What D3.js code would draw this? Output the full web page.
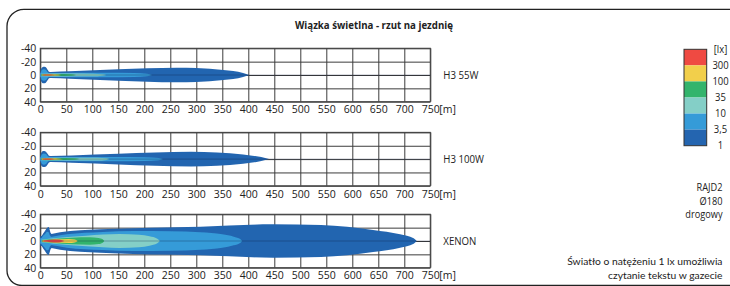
<!DOCTYPE html>
<html><head><meta charset="utf-8">
<script src="https://cdn.jsdelivr.net/npm/d3@7"></script>
<style>body{margin:0;background:#fff}svg{display:block}</style>
</head><body><svg id="c" width="730" height="286"></svg>
<script>
// ---------- data ----------
const distanceTicks = [0,50,100,150,200,250,300,350,400,450,500,550,600,650,700,750];
const offsetTicks = [-40,-20,0,20,40];
const lampNames = ["H3 55W","H3 100W","XENON"];
const legendLabels = ["[lx]","300","100","35","10","3,5","1"];
const luxColors = ["#2465b0","#359bd8","#84cfc7","#33b46c","#f2cf4b","#ef4a42"]; // 1, 3.5, 10, 35, 100, 300 lx

// isolux contours: [distance m, half width m]
const h55_lux1   = [[0,4],[20,4.5],[56,5.5],[150,8.5],[262,11],[300,10.5],[352,7.5],[390,3],[402,0]];
const h55_lux3_5 = [[0,2.6],[40,3],[120,3.3],[180,2.9],[205,1.8],[215,0]];
const h55_lux10  = [[1,1.8],[40,2.1],[100,2],[120,1.2],[127,0]];
const h55_lux35  = [[2,1.3],[30,1.6],[60,1.1],[69,0]];
const h55_lux100 = [[3,0.9],[20,1.2],[35,0.7],[40,0]];
const h55_lux300 = [[5,0.5],[15,0.8],[24,0.5],[28,0]];
const h55_bulb1  = [[0,3],[2,10],[6,12.5],[10,12],[14,8],[17,5],[20,4.5]];
const h55_bulb3_5= [[1,3],[3,7.5],[7,8.5],[11,7.5],[14,4.5],[16,3]];

const h100_lux1   = [[0,4],[20,4.5],[60,5.5],[150,8],[290,11],[340,10],[390,7],[425,3],[440,0]];
const h100_lux3_5 = [[0,2.6],[40,3],[140,3.3],[200,2.9],[228,1.6],[236,0]];
const h100_lux10  = [[1,1.8],[40,2.1],[110,2],[127,1.2],[133,0]];
const h100_lux35  = [[2,1.3],[30,1.6],[66,1.1],[75,0]];
const h100_lux100 = [[3,0.9],[22,1.2],[38,0.7],[44,0]];
const h100_lux300 = [[5,0.5],[15,0.8],[24,0.5],[28,0]];
const h100_bulb1  = [[0,3],[2,10],[6,12],[10,11.5],[14,8],[17,5],[20,4.5]];
const h100_bulb3_5= [[1,3],[3,7],[7,8.5],[11,7.5],[14,4.5],[16,3]];

const xen_lux1   = [[0,7],[19,10],[38,13],[115,17.5],[308,21.5],[448,25],[540,24],[640,16.5],[692,10],[718,4],[724,0]];
const xen_lux3_5 = [[0,4],[20,6],[51,10],[120,13.5],[179,15],[250,14.5],[308,13],[350,10],[372,6.5],[385,2.5],[388,0]];
const xen_lux10  = [[2,2],[31,4.5],[88,8],[152,10.5],[190,9.5],[210,7],[225,3.5],[230,0]];
const xen_lux35  = [[3,1.5],[25,3],[60,5],[95,5.5],[112,4.5],[120,2.5],[123,0]];
const xen_lux100 = [[4,1],[30,2.2],[55,3],[66,2.2],[72,0]];
const xen_lux300 = [[6,0.8],[20,1.8],[35,2.2],[42,1.2],[46,0]];
const xen_bulb1  = [[0,3],[3,8],[8,14],[13,19.5],[16,21],[18,17],[20,12],[23,10]];
const xen_bulb3_5= [[1,2.5],[4,6.5],[9,10.5],[13,14],[16,13],[18,9],[21,6]];

const lamps = [
  {name: lampNames[0], contours:[h55_lux1,h55_lux3_5,h55_lux10,h55_lux35,h55_lux100,h55_lux300], bulbs:[h55_bulb1,h55_bulb3_5]},
  {name: lampNames[1], contours:[h100_lux1,h100_lux3_5,h100_lux10,h100_lux35,h100_lux100,h100_lux300], bulbs:[h100_bulb1,h100_bulb3_5]},
  {name: lampNames[2], contours:[xen_lux1,xen_lux3_5,xen_lux10,xen_lux35,xen_lux100,xen_lux300], bulbs:[xen_bulb1,xen_bulb3_5]}
];

// ---------- drawing ----------
const svg = d3.select("#c");
const SANS = "'Open Sans','Noto Sans',sans-serif";
const X0 = 40.3, X1 = 430.3, PH = 53.4;
const panelTops = [48.3, 132.4, 214.3];
const x = d3.scaleLinear().domain([0,750]).range([X0,X1]);

const defs = svg.append("defs");
defs.append("filter").attr("id","soft").attr("x","-5%").attr("y","-30%").attr("width","110%").attr("height","160%")
  .append("feGaussianBlur").attr("stdDeviation",0.45);

function squeeze(sel, k){
  sel.each(function(){
    const L = this.getComputedTextLength();
    d3.select(this).attr("textLength", L*k).attr("lengthAdjust","spacingAndGlyphs");
  });
}

// outer frame
svg.append("path")
  .attr("d","M730,9.3 H24 A17,17 0 0 0 7,26.3 V270 A15,15 0 0 0 22,285.5 H730")
  .attr("fill","none").attr("stroke","#222").attr("stroke-width",1.3);

// title
svg.append("text").attr("x",374).attr("y",28.5).attr("text-anchor","middle")
  .attr("font-family",SANS).attr("font-weight","bold").attr("font-size",11).attr("fill","#222")
  .text("Wiązka świetlna - rzut na jezdnię").call(squeeze,0.88);

lamps.forEach((lamp,i)=>{
  const top = panelTops[i];
  const y = d3.scaleLinear().domain([-40,40]).range([top, top+PH]);
  const g = svg.append("g");

  // grid via axes
  const gx = g.append("g").attr("transform",`translate(0,${top+PH})`)
    .call(d3.axisBottom(x).tickValues(distanceTicks).tickSize(-PH).tickPadding(6).tickFormat(d=>String(d)));
  const gy = g.append("g").attr("transform",`translate(${X0},0)`)
    .call(d3.axisLeft(y).tickValues(offsetTicks).tickSize(-(X1-X0)).tickPadding(4).tickFormat(d=>String(d)));
  [gx,gy].forEach(a=>{
    a.select(".domain").remove();
    a.selectAll(".tick line").attr("stroke","#3c3c3c").attr("stroke-width",1);
    a.selectAll(".tick text").attr("font-family",SANS).attr("font-size",10.5).attr("fill","#222");
  });
  gx.selectAll(".tick text").attr("dy","0.55em");
  // [m] unit after last tick
  const lastTick = gx.selectAll(".tick text").filter(d=>d===750);
  const w750 = lastTick.node().getComputedTextLength();
  g.append("text").attr("x", x(750)+w750/2).attr("y", top+PH+6).attr("dy","0.55em")
    .attr("font-family",SANS).attr("font-size",10.5).attr("fill","#222").text("[m]");

  g.append("rect").attr("x",X0).attr("y",top).attr("width",X1-X0).attr("height",PH)
    .attr("fill","none").attr("stroke","#444").attr("stroke-width",1.1);

  // beams
  const area = d3.area().x(d=>x(d[0])).y0(d=>y(-d[1])).y1(d=>y(d[1])).curve(d3.curveMonotoneX);
  const bg = g.append("g").attr("filter","url(#soft)");
  bg.append("path").attr("d",area(lamp.contours[0])).attr("fill",luxColors[0]);
  bg.append("path").attr("d",area(lamp.bulbs[0])).attr("fill",luxColors[0]);
  bg.append("path").attr("d",area(lamp.bulbs[1])).attr("fill",luxColors[1]);
  lamp.contours.slice(1).forEach((c,k)=>{
    bg.append("path").attr("d",area(c)).attr("fill",luxColors[k+1]);
  });
  // centre line
  g.append("line").attr("x1",x(0)).attr("x2",x(750)).attr("y1",y(0)).attr("y2",y(0))
    .attr("stroke","rgba(15,30,60,0.35)").attr("stroke-width",0.9);

  // lamp label
  g.append("text").attr("x",443.3).attr("y",y(0)+3.8)
    .attr("font-family",SANS).attr("font-size",11).attr("fill","#222").text(lamp.name).call(squeeze,0.88);
});

// legend
const LX = 684, LW = 22.7;
const ly = d3.scaleLinear().domain([0,6]).range([49.3,145.7]);
const legendColors = luxColors.slice().reverse();
const lg = svg.append("g");
legendColors.forEach((c,k)=>{
  lg.append("rect").attr("x",LX).attr("y",ly(k)).attr("width",LW).attr("height",ly(k+1)-ly(k)).attr("fill",c);
});
lg.append("rect").attr("x",LX).attr("y",ly(0)).attr("width",LW).attr("height",ly(6)-ly(0))
  .attr("fill","none").attr("stroke","#333").attr("stroke-width",1);
legendLabels.forEach((t,k)=>{
  lg.append("text").attr("x",720.5).attr("y",ly(k)).attr("dy","0.35em").attr("text-anchor","middle")
    .attr("font-family",SANS).attr("font-size",10.5).attr("fill","#222").text(t).call(squeeze,0.9);
});

// notes
const notes1 = ["RAJD2","Ø180","drogowy"];
notes1.forEach((t,k)=>{
  svg.append("text").attr("x",722.5).attr("y",191+k*13.5).attr("text-anchor","end")
    .attr("font-family",SANS).attr("font-size",10).attr("fill","#222").text(t).call(squeeze,0.92);
});
const notes2 = ["Światło o natężeniu 1 lx umożliwia","czytanie tekstu w gazecie"];
notes2.forEach((t,k)=>{
  svg.append("text").attr("x",722.5).attr("y",264.5+k*14).attr("text-anchor","end")
    .attr("font-family","Lato,'Open Sans',sans-serif").attr("font-size",10.3).attr("fill","#222").text(t);
});
</script></body></html>
